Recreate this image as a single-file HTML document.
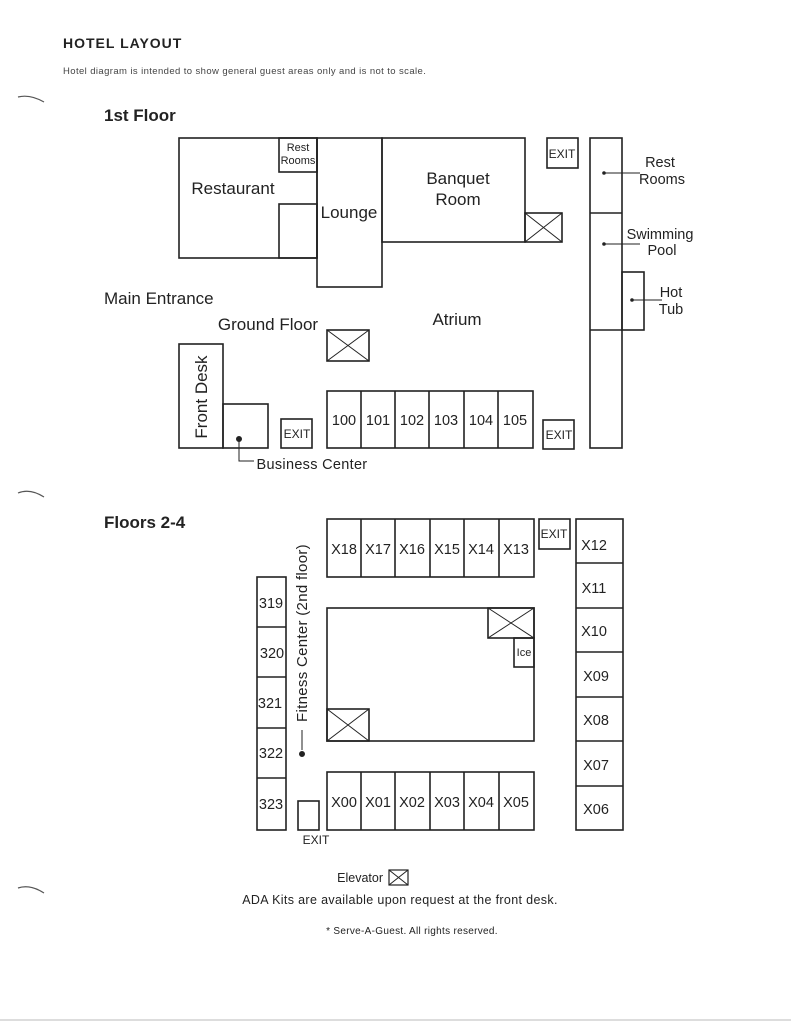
<!DOCTYPE html>
<html><head><meta charset="utf-8"><style>
html,body{margin:0;padding:0;background:#fff;}
svg{display:block;font-family:"Liberation Sans",sans-serif;}
</style></head><body>
<svg width="791" height="1023" viewBox="0 0 791 1023" xmlns="http://www.w3.org/2000/svg">
<g fill="none" stroke="#555" stroke-width="1.2">
<path d="M18 97 Q30 94 44 102"/>
<path d="M18 493 Q30 488 44 497"/>
<path d="M18 888 Q30 884 44 893"/>
</g>
<line x1="0" y1="1020" x2="791" y2="1020" stroke="#bbb" stroke-width="1"/>
<text x="63" y="48" font-size="14" font-weight="bold" fill="#222" letter-spacing="1">HOTEL LAYOUT</text>
<text x="63" y="74" font-size="9.5" fill="#444" letter-spacing="0.4">Hotel diagram is intended to show general guest areas only and is not to scale.</text>
<text x="104" y="121" font-size="17" font-weight="bold" fill="#222">1st Floor</text>
<text x="104" y="528" font-size="17" font-weight="bold" fill="#222">Floors 2-4</text>

<g fill="none" stroke="#222" stroke-width="1.6">
<rect x="179" y="138" width="138" height="120"/>
<rect x="279" y="138" width="38" height="34"/>
<rect x="279" y="204" width="38" height="54"/>
<rect x="317" y="138" width="65" height="149"/>
<rect x="382" y="138" width="143" height="104"/>
<rect x="525" y="213" width="37" height="29"/>
<path d="M525 213 L562 242 M562 213 L525 242" stroke-width="1"/>
<rect x="547" y="138" width="31" height="30"/>
<rect x="590" y="138" width="32" height="310"/>
<line x1="590" y1="213" x2="622" y2="213"/>
<line x1="590" y1="330" x2="622" y2="330"/>
<rect x="622" y="272" width="22" height="58"/>
<rect x="327" y="330" width="42" height="31"/>
<path d="M327 330 L369 361 M369 330 L327 361" stroke-width="1"/>
<rect x="179" y="344" width="44" height="104"/>
<rect x="223" y="404" width="45" height="44"/>
<rect x="281" y="419" width="31" height="29"/>
<rect x="327" y="391" width="206" height="57"/>
<line x1="361" y1="391" x2="361" y2="448"/>
<line x1="395" y1="391" x2="395" y2="448"/>
<line x1="429" y1="391" x2="429" y2="448"/>
<line x1="464" y1="391" x2="464" y2="448"/>
<line x1="498" y1="391" x2="498" y2="448"/>
<rect x="543" y="420" width="31" height="29"/>
<rect x="327" y="519" width="207" height="58"/>
<line x1="361" y1="519" x2="361" y2="577"/>
<line x1="395" y1="519" x2="395" y2="577"/>
<line x1="430" y1="519" x2="430" y2="577"/>
<line x1="464" y1="519" x2="464" y2="577"/>
<line x1="499" y1="519" x2="499" y2="577"/>
<rect x="539" y="519" width="31" height="30"/>
<rect x="576" y="519" width="47" height="311"/>
<line x1="576" y1="563" x2="623" y2="563"/>
<line x1="576" y1="608" x2="623" y2="608"/>
<line x1="576" y1="652" x2="623" y2="652"/>
<line x1="576" y1="697" x2="623" y2="697"/>
<line x1="576" y1="741" x2="623" y2="741"/>
<line x1="576" y1="786" x2="623" y2="786"/>
<rect x="257" y="577" width="29" height="253"/>
<line x1="257" y1="627" x2="286" y2="627"/>
<line x1="257" y1="677" x2="286" y2="677"/>
<line x1="257" y1="728" x2="286" y2="728"/>
<line x1="257" y1="778" x2="286" y2="778"/>
<rect x="327" y="608" width="207" height="133"/>
<rect x="488" y="608" width="46" height="30"/>
<path d="M488 608 L534 638 M534 608 L488 638" stroke-width="1"/>
<rect x="514" y="638" width="20" height="29"/>
<rect x="327" y="709" width="42" height="32"/>
<path d="M327 709 L369 741 M369 709 L327 741" stroke-width="1"/>
<rect x="327" y="772" width="207" height="58"/>
<line x1="361" y1="772" x2="361" y2="830"/>
<line x1="395" y1="772" x2="395" y2="830"/>
<line x1="430" y1="772" x2="430" y2="830"/>
<line x1="464" y1="772" x2="464" y2="830"/>
<line x1="499" y1="772" x2="499" y2="830"/>
<rect x="298" y="801" width="21" height="29"/>
<rect x="389" y="870" width="19" height="15" stroke-width="1.2"/>
<path d="M389 870 L408 885 M408 870 L389 885" stroke-width="1"/>
</g>
<g stroke="#222" stroke-width="1" fill="#222">
<line x1="604" y1="173" x2="640" y2="173"/><circle cx="604" cy="173" r="1.3"/>
<line x1="604" y1="244" x2="640" y2="244"/><circle cx="604" cy="244" r="1.3"/>
<line x1="632" y1="300" x2="662" y2="300"/><circle cx="632" cy="300" r="1.3"/>
<path d="M239 439 V461 H254" fill="none"/><circle cx="239" cy="439" r="2.5"/>
<line x1="302" y1="730" x2="302" y2="750"/><circle cx="302" cy="754" r="2.5"/>
</g>
<g fill="#222" font-size="17" text-anchor="middle">
<text x="233" y="194">Restaurant</text>
<text x="298" y="151" font-size="11">Rest</text>
<text x="298" y="164" font-size="11">Rooms</text>
<text x="349" y="218">Lounge</text>
<text x="458" y="184">Banquet</text>
<text x="458" y="205">Room</text>
<text x="562" y="158" font-size="12">EXIT</text>
<text x="660" y="167" font-size="14.5">Rest</text>
<text x="662" y="184" font-size="14.5">Rooms</text>
<text x="660" y="239" font-size="14.5">Swimming</text>
<text x="662" y="255" font-size="14.5">Pool</text>
<text x="671" y="297" font-size="14.5">Hot</text>
<text x="671" y="314" font-size="14.5">Tub</text>
<text x="104" y="304" text-anchor="start">Main Entrance</text>
<text x="268" y="330">Ground Floor</text>
<text x="457" y="325">Atrium</text>
<text x="207" y="397" transform="rotate(-90 207 397)">Front Desk</text>
<text x="297" y="438" font-size="12">EXIT</text>
<g font-size="14.5">
<text x="344" y="425">100</text><text x="378" y="425">101</text><text x="412" y="425">102</text>
<text x="446" y="425">103</text><text x="481" y="425">104</text><text x="515" y="425">105</text>
</g>
<text x="559" y="439" font-size="12">EXIT</text>
<text x="312" y="469" font-size="14.5" letter-spacing="0.3">Business Center</text>
<g font-size="14.5">
<text x="344" y="554">X18</text><text x="378" y="554">X17</text><text x="412" y="554">X16</text>
<text x="447" y="554">X15</text><text x="481" y="554">X14</text><text x="516" y="554">X13</text>
<text x="344" y="807">X00</text><text x="378" y="807">X01</text><text x="412" y="807">X02</text>
<text x="447" y="807">X03</text><text x="481" y="807">X04</text><text x="516" y="807">X05</text>
<text x="594" y="550">X12</text><text x="594" y="593">X11</text><text x="594" y="636">X10</text>
<text x="596" y="681">X09</text><text x="596" y="725">X08</text><text x="596" y="770">X07</text><text x="596" y="814">X06</text>
<text x="271" y="608">319</text><text x="272" y="658">320</text><text x="270" y="708">321</text>
<text x="271" y="758">322</text><text x="271" y="809">323</text>
<text x="307" y="633" font-size="15" transform="rotate(-90 307 633)" letter-spacing="0.3">Fitness Center (2nd floor)</text>
</g>
<text x="554" y="538" font-size="12">EXIT</text>
<text x="524" y="656" font-size="11">Ice</text>
<text x="316" y="844" font-size="12">EXIT</text>
<text x="383" y="882" font-size="12.5" text-anchor="end">Elevator</text>
<text x="400" y="904" font-size="12.5" letter-spacing="0.35">ADA Kits are available upon request at the front desk.</text>
<text x="412" y="934" font-size="10" letter-spacing="0.3">* Serve-A-Guest. All rights reserved.</text>
</g>
</svg>
</body></html>
